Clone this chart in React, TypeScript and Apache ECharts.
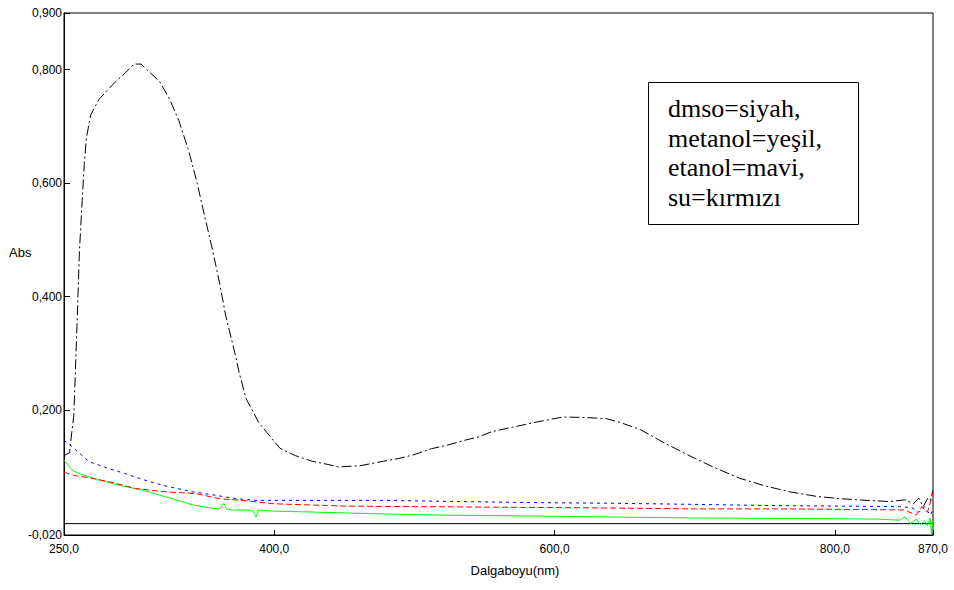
import React, { useEffect, useRef } from "react";
import * as echarts from "echarts";

// Wavelength (nm) / absorbance readings
const dmsoWl = [250, 254, 255.5, 257, 259.5, 261, 263, 264.5, 266, 269, 275, 286, 294, 300, 305, 310, 318, 325, 332, 339, 345, 351, 356, 358.5, 361, 365.5, 372.5, 375, 380, 389, 404, 415, 427, 439, 446, 461, 478, 489, 499, 512, 523, 536, 546, 555, 570, 587, 606, 623, 637, 646, 661, 677, 696, 713, 732, 751, 768, 787, 804, 823, 839, 850, 856, 860, 863, 866, 868, 870];
const dmsoAbs = [0.12, 0.125, 0.16, 0.19, 0.365, 0.48, 0.57, 0.635, 0.68, 0.72, 0.748, 0.777, 0.795, 0.81, 0.81, 0.798, 0.78, 0.75, 0.71, 0.657, 0.6, 0.535, 0.482, 0.453, 0.424, 0.365, 0.295, 0.266, 0.22, 0.178, 0.133, 0.12, 0.11, 0.104, 0.1, 0.102, 0.11, 0.115, 0.121, 0.132, 0.138, 0.147, 0.153, 0.162, 0.17, 0.179, 0.188, 0.187, 0.185, 0.179, 0.166, 0.144, 0.12, 0.1, 0.08, 0.066, 0.056, 0.048, 0.044, 0.041, 0.039, 0.042, 0.035, 0.045, 0.03, 0.044, 0.04, 0.058];

const metanolWl = [250, 256, 261, 275, 289, 306, 323, 342, 356, 361, 364, 366, 370, 380, 385, 387, 389, 400, 418, 450, 479, 520, 561, 600, 632, 699, 775, 832, 846, 850, 854, 858, 861, 864, 866, 868, 869, 869.5, 870];
const metanolAbs = [0.112, 0.094, 0.088, 0.077, 0.068, 0.059, 0.047, 0.033, 0.027, 0.026, 0.036, 0.026, 0.024, 0.024, 0.022, 0.012, 0.024, 0.022, 0.021, 0.019, 0.017, 0.015, 0.014, 0.013, 0.012, 0.01, 0.009, 0.008, 0.006, 0.012, 0.0, 0.008, -0.002, 0.006, -0.004, 0.01, -0.02, 0.0, 0.005];

const etanolWl = [250, 256, 268, 282, 294, 311, 325, 342, 358, 373, 387, 420, 479, 530, 589, 640, 699, 750, 800, 846, 855, 860, 864, 868, 870];
const etanolAbs = [0.147, 0.135, 0.109, 0.097, 0.088, 0.074, 0.065, 0.056, 0.05, 0.044, 0.041, 0.041, 0.041, 0.039, 0.037, 0.036, 0.034, 0.032, 0.031, 0.03, 0.028, 0.02, 0.03, 0.015, 0.025];

const suWl = [250, 251, 257, 270, 282, 301, 323, 344, 361, 377, 400, 450, 500, 560, 620, 700, 760, 820, 850, 858, 862, 866, 869, 870];
const suAbs = [0.09, 0.09, 0.085, 0.08, 0.074, 0.062, 0.056, 0.053, 0.044, 0.041, 0.035, 0.031, 0.03, 0.029, 0.028, 0.026, 0.026, 0.025, 0.024, 0.015, 0.03, 0.02, 0.045, 0.055];

const xTicks = [250, 400, 600, 800, 870];
const yTicks = [-0.02, 0.2, 0.4, 0.6, 0.8, 0.9];

const legendLines = ["dmso=siyah,", "metanol=yeşil,", "etanol=mavi,", "su=kırmızı"];

const zip = (xs: number[], ys: number[]) => xs.map((x, i) => [x, ys[i]]);

export default function App() {
  const ref = useRef<HTMLDivElement>(null);
  useEffect(() => {
    if (!ref.current) return;
    const chart = echarts.init(ref.current, undefined, { renderer: "svg" });
    const labelFont = { fontFamily: "Liberation Sans, Arial, sans-serif", fontSize: 12, color: "#000" };
    chart.setOption({
      animation: false,
      backgroundColor: "#fff",
      grid: {
        left: 64,
        top: 13,
        right: 21,
        bottom: 55,
        show: true,
        borderColor: "#000",
        borderWidth: 1,
        backgroundColor: "transparent",
      },
      xAxis: {
        type: "value",
        min: 250,
        max: 870,
        name: "Dalgaboyu(nm)",
        nameLocation: "middle",
        nameGap: 29,
        nameTextStyle: { fontFamily: "Liberation Sans, Arial, sans-serif", fontSize: 13, color: "#000", padding: [0, 0, 0, 33] },
        axisLine: { show: true, onZero: false, lineStyle: { color: "#000", width: 1 } },
        axisTick: { show: true, inside: true, length: 5, customValues: xTicks, lineStyle: { color: "#000" } },
        axisLabel: {
          ...labelFont,
          margin: 8,
          customValues: xTicks,
          formatter: (v: number) => v.toFixed(1).replace(".", ","),
        },
        splitLine: { show: false },
      },
      yAxis: {
        type: "value",
        min: -0.02,
        max: 0.9,
        axisLine: { show: true, onZero: false, lineStyle: { color: "#000", width: 1 } },
        axisTick: { show: true, inside: true, length: 6, customValues: yTicks, lineStyle: { color: "#000" } },
        axisLabel: {
          ...labelFont,
          margin: 2,
          customValues: yTicks,
          formatter: (v: number) => v.toFixed(3).replace(".", ","),
        },
        splitLine: { show: false },
      },
      graphic: [
        {
          type: "text",
          left: 9,
          top: 246,
          style: { text: "Abs", fontFamily: "Liberation Sans, Arial, sans-serif", fontSize: 13, fill: "#000" },
        },
        {
          type: "rect",
          shape: { x: 648.5, y: 82.5, width: 210, height: 142 },
          style: { fill: "#fff", stroke: "#000", lineWidth: 1 },
          z: 10,
        },
        ...legendLines.map((t, i) => ({
          type: "text",
          x: 668,
          y: 108.5 + i * 29.5,
          z: 11,
          style: {
            text: t,
            fontFamily: "Liberation Serif, Times New Roman, serif",
            fontSize: 26,
            fill: "#000",
            verticalAlign: "middle",
            align: "left",
          },
        })),
      ],
      series: [
        {
          name: "baseline",
          type: "line",
          data: [[250, 0], [870, 0]],
          showSymbol: false,
          silent: true,
          lineStyle: { color: "#000", width: 1 },
        },
        {
          name: "dmso",
          type: "line",
          data: zip(dmsoWl, dmsoAbs),
          showSymbol: false,
          lineStyle: { color: "#000", width: 1, type: [10, 3, 2, 3] },
        },
        {
          name: "metanol",
          type: "line",
          data: zip(metanolWl, metanolAbs),
          showSymbol: false,
          lineStyle: { color: "#00ff00", width: 1 },
        },
        {
          name: "etanol",
          type: "line",
          data: zip(etanolWl, etanolAbs),
          showSymbol: false,
          lineStyle: { color: "#0000ff", width: 1, type: [3, 4] },
        },
        {
          name: "su",
          type: "line",
          data: zip(suWl, suAbs),
          showSymbol: false,
          lineStyle: { color: "#ff0000", width: 1, type: [6, 3] },
        },
      ],
    });
    return () => chart.dispose();
  }, []);
  return <div ref={ref} style={{ width: 954, height: 590, position: "absolute", left: 0, top: 0 }} />;
}
